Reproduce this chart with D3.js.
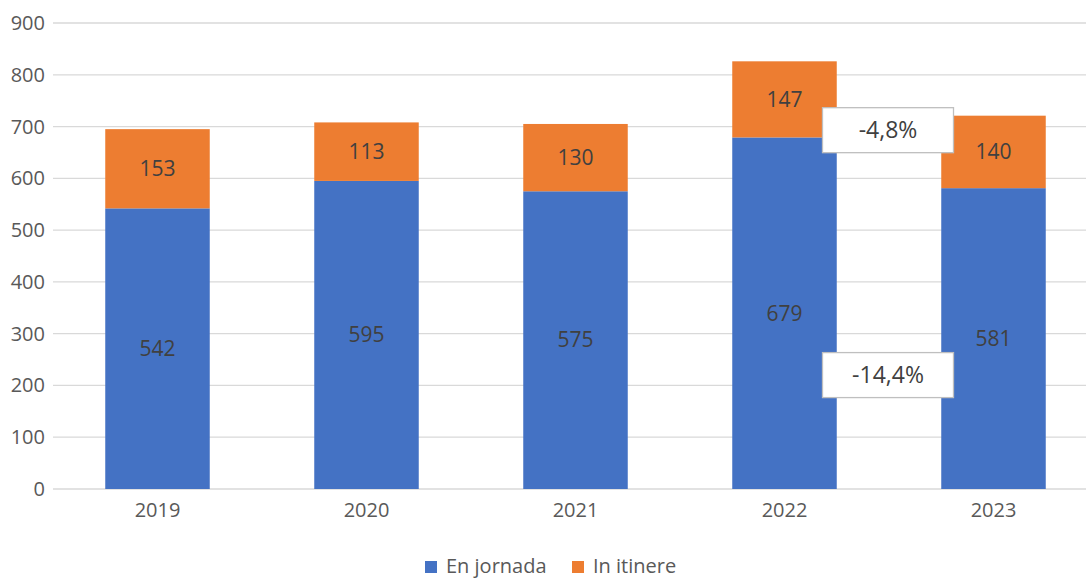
<!DOCTYPE html>
<html>
<head>
<meta charset="utf-8">
<script src="https://cdn.jsdelivr.net/npm/d3@7"></script>
<style>
  body { margin: 0; background: #fff; }
  text { font-family: "Open Sans", "Liberation Sans", sans-serif; }
</style>
</head>
<body>
<svg id="chart"></svg>
<script>
// chart data
var years = ["2019", "2020", "2021", "2022", "2023"];
var enJornada = [542, 595, 575, 679, 581];
var inItinere = [153, 113, 130, 147, 140];
var seriesNames = ["En jornada", "In itinere"];
var seriesColors = ["#4472C4", "#ED7D31"];
var yTicks = [0, 100, 200, 300, 400, 500, 600, 700, 800, 900];
// change callouts between 2022 and 2023
var calloutLabels = ["-4,8%", "-14,4%"];
var calloutValues = [693, 220];

var width = 1086, height = 578;
var margin = {top: 23, right: -12, bottom: 89, left: 53};

var svg = d3.select("#chart")
    .attr("width", width)
    .attr("height", height);

var x = d3.scaleBand()
    .domain(years)
    .range([margin.left, width - margin.right])
    .paddingInner(0.5)
    .paddingOuter(0.25);

var y = d3.scaleLinear()
    .domain([0, 900])
    .range([height - margin.bottom, margin.top]);

// gridlines
svg.append("g")
    .selectAll("line")
    .data(yTicks)
    .enter()
    .append("line")
    .attr("x1", margin.left)
    .attr("x2", width)
    .attr("y1", d => y(d))
    .attr("y2", d => y(d))
    .attr("stroke", "#d9d9d9")
    .attr("stroke-width", 1.3);

// y tick labels
svg.append("g")
    .selectAll("text")
    .data(yTicks)
    .enter()
    .append("text")
    .attr("x", margin.left - 8)
    .attr("y", d => y(d))
    .attr("dy", "0.35em")
    .attr("text-anchor", "end")
    .attr("font-size", "20px")
    .attr("fill", "#595959")
    .text(d => d);

// stacked data
var rows = years.map((yr, i) => ({year: yr, a: enJornada[i], b: inItinere[i]}));
var stack = d3.stack().keys(["a", "b"])(rows);

var groups = svg.append("g")
    .selectAll("g")
    .data(stack)
    .enter()
    .append("g")
    .attr("fill", (d, i) => seriesColors[i]);

groups.selectAll("rect")
    .data(d => d)
    .enter()
    .append("rect")
    .attr("x", d => x(d.data.year))
    .attr("width", x.bandwidth())
    .attr("y", d => y(d[1]))
    .attr("height", d => y(d[0]) - y(d[1]));

// data labels
groups.selectAll("text")
    .data(d => d)
    .enter()
    .append("text")
    .attr("x", d => x(d.data.year) + x.bandwidth() / 2)
    .attr("y", d => (y(d[0]) + y(d[1])) / 2)
    .attr("dy", "0.35em")
    .attr("text-anchor", "middle")
    .attr("font-size", "21px")
    .attr("fill", "#404040")
    .text(d => d[1] - d[0]);

// x axis labels
svg.append("g")
    .selectAll("text")
    .data(years)
    .enter()
    .append("text")
    .attr("x", d => x(d) + x.bandwidth() / 2)
    .attr("y", y(0) + 21)
    .attr("dy", "0.35em")
    .attr("text-anchor", "middle")
    .attr("font-size", "20px")
    .attr("fill", "#595959")
    .text(d => d);

// callout boxes
var cx = (x("2022") + x("2023") + x.bandwidth()) / 2 - 1;
var boxW = 131, boxH = 45;
var callouts = svg.append("g")
    .selectAll("g")
    .data(calloutLabels)
    .enter()
    .append("g")
    .attr("transform", (d, i) => "translate(" + cx + "," + y(calloutValues[i]) + ")");

callouts.append("rect")
    .attr("x", -boxW / 2)
    .attr("y", -boxH / 2)
    .attr("width", boxW)
    .attr("height", boxH)
    .attr("fill", "#fff")
    .attr("stroke", "#bfbfbf")
    .attr("stroke-width", 1.3);

callouts.append("text")
    .attr("text-anchor", "middle")
    .attr("dy", "0.35em")
    .attr("font-size", "23px")
    .attr("fill", "#404040")
    .text(d => d);

// legend
var legend = svg.append("g")
    .attr("transform", "translate(425," + 566 + ")");
var legendX = [0, 147];
var items = legend.selectAll("g")
    .data(seriesNames)
    .enter()
    .append("g")
    .attr("transform", (d, i) => "translate(" + legendX[i] + ",0)");
items.append("rect")
    .attr("x", 0)
    .attr("y", -5)
    .attr("width", 12)
    .attr("height", 12)
    .attr("fill", (d, i) => seriesColors[i]);
items.append("text")
    .attr("x", 21)
    .attr("dy", "0.35em")
    .attr("font-size", "20px")
    .attr("fill", "#595959")
    .text(d => d);
</script>
</body>
</html>
